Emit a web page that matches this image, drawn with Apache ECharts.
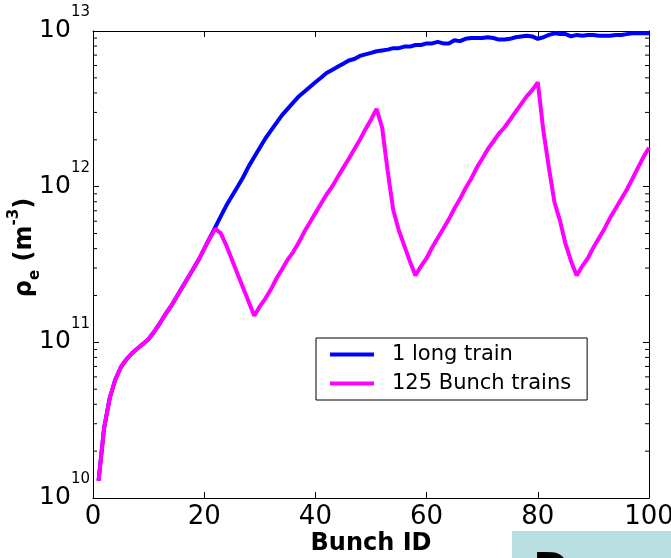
<!DOCTYPE html>
<html>
<head>
<meta charset="utf-8">
<style>
  html, body { margin: 0; padding: 0; background: #fff; }
  #chart-container { width: 671px; height: 558px; }
</style>
</head>
<body>
<div id="chart-container"></div>
<script src="https://cdn.jsdelivr.net/npm/echarts@6/dist/echarts.min.js"></script>
<script type="text/javascript">
// bunch index along the train
var bunchIds = Array.from({ length: 100 }, function (_, i) { return i + 1; });

// electron cloud density, one long train (m^-3)
var longTrain = [
  1.29e10, 2.82e10, 4.37e10, 5.75e10, 6.92e10, 7.76e10, 8.51e10, 9.12e10, 9.77e10, 1.05e11,
  1.17e11, 1.32e11, 1.51e11, 1.70e11, 1.95e11, 2.24e11, 2.57e11, 2.95e11, 3.39e11, 3.98e11,
  4.68e11, 5.50e11, 6.46e11, 7.59e11, 8.71e11, 1.00e12, 1.15e12, 1.35e12, 1.55e12, 1.78e12,
  2.04e12, 2.29e12, 2.57e12, 2.88e12, 3.16e12, 3.47e12, 3.80e12, 4.07e12, 4.37e12, 4.68e12,
  5.01e12, 5.37e12, 5.62e12, 5.89e12, 6.17e12, 6.46e12, 6.61e12, 6.92e12, 7.08e12, 7.24e12,
  7.41e12, 7.50e12, 7.59e12, 7.76e12, 7.76e12, 7.94e12, 7.94e12, 8.13e12, 8.13e12, 8.32e12,
  8.32e12, 8.51e12, 8.32e12, 8.32e12, 8.71e12, 8.61e12, 8.91e12, 9.02e12, 9.02e12, 9.02e12,
  9.12e12, 9.02e12, 8.81e12, 8.81e12, 8.91e12, 9.12e12, 9.23e12, 9.33e12, 9.23e12, 8.91e12,
  9.12e12, 9.44e12, 9.66e12, 9.55e12, 9.55e12, 9.23e12, 9.44e12, 9.33e12, 9.44e12, 9.44e12,
  9.33e12, 9.33e12, 9.33e12, 9.44e12, 9.44e12, 9.55e12, 9.66e12, 9.66e12, 9.66e12, 9.66e12
];

// electron cloud density, 125-bunch trains with gaps (m^-3)
var bunchTrains = [
  1.29e10, 2.82e10, 4.37e10, 5.75e10, 6.92e10, 7.76e10, 8.51e10, 9.12e10, 9.77e10, 1.05e11,
  1.17e11, 1.32e11, 1.51e11, 1.70e11, 1.95e11, 2.24e11, 2.57e11, 2.95e11, 3.39e11, 3.98e11,
  4.68e11, 5.37e11, 5.01e11, 4.17e11, 3.39e11, 2.75e11, 2.24e11, 1.82e11, 1.48e11, 1.70e11,
  1.91e11, 2.19e11, 2.57e11, 2.95e11, 3.39e11, 3.80e11, 4.37e11, 5.13e11, 5.89e11, 6.76e11,
  7.76e11, 8.91e11, 1.00e12, 1.15e12, 1.32e12, 1.51e12, 1.74e12, 2.00e12, 2.34e12, 2.69e12,
  3.16e12, 2.40e12, 1.26e12, 7.08e11, 5.25e11, 4.17e11, 3.31e11, 2.69e11, 3.09e11, 3.47e11,
  4.07e11, 4.68e11, 5.37e11, 6.17e11, 7.24e11, 8.32e11, 9.77e11, 1.12e12, 1.32e12, 1.51e12,
  1.74e12, 1.95e12, 2.19e12, 2.40e12, 2.69e12, 3.02e12, 3.39e12, 3.80e12, 4.17e12, 4.68e12,
  2.29e12, 1.32e12, 7.94e11, 6.03e11, 4.27e11, 3.31e11, 2.69e11, 3.09e11, 3.47e11, 4.07e11,
  4.68e11, 5.37e11, 6.31e11, 7.24e11, 8.32e11, 9.55e11, 1.12e12, 1.32e12, 1.55e12, 1.78e12
];

var seriesNames = ['1 long train', '125 Bunch trains'];
var xTicks = [0, 20, 40, 60, 80, 100];
var yTickExponents = ['10', '11', '12', '13'];
var minorTicks = [
  2e10, 3e10, 4e10, 5e10, 6e10, 7e10, 8e10, 9e10,
  2e11, 3e11, 4e11, 5e11, 6e11, 7e11, 8e11, 9e11,
  2e12, 3e12, 4e12, 5e12, 6e12, 7e12, 8e12, 9e12
];

var FONT = 'DejaVu Sans';

function pairs(vals) {
  return bunchIds.map(function (x, i) { return [x, vals[i]]; });
}

var dom = document.getElementById('chart-container');
var myChart = echarts.init(dom, null, { renderer: 'canvas' });

var yLabel = {
  fontFamily: FONT,
  color: '#000',
  margin: 3,
  padding: [0, 0, 14, 0],
  formatter: function (value, index) {
    return '{b|10}{s|' + yTickExponents[index] + '}';
  },
  rich: {
    b: { fontFamily: FONT, fontSize: 25, color: '#000', lineHeight: 38, verticalAlign: 'bottom' },
    s: { fontFamily: FONT, fontSize: 15, color: '#000', lineHeight: 38, verticalAlign: 'top' }
  }
};

var boxLine = { show: true, onZero: false, lineStyle: { color: '#000', width: 1 } };
var inTick = { inside: true, length: 6, lineStyle: { color: '#000' } };

var option = {
  animation: false,
  grid: { left: 93, right: 22, top: 31, bottom: 60, containLabel: false, outerBoundsMode: 'none' },
  legend: {
    data: seriesNames,
    orient: 'vertical',
    left: 316,
    top: 338,
    padding: [6, 16, 6, 14],
    itemGap: 8,
    itemWidth: 44,
    itemHeight: 4,
    icon: 'rect',
    backgroundColor: '#fff',
    borderColor: '#000',
    borderWidth: 1,
    borderRadius: 0,
    textStyle: { fontFamily: FONT, fontSize: 21, color: '#000', padding: [0, 0, 0, 13] }
  },
  xAxis: [
    {
      type: 'value',
      min: 0,
      max: 100,
      interval: 20,
      name: 'Bunch ID',
      nameLocation: 'middle',
      nameGap: 34,
      nameMoveOverlap: false,
      nameTextStyle: { fontFamily: FONT, fontSize: 24, fontWeight: 'bold', color: '#000' },
      axisLine: boxLine,
      axisTick: inTick,
      axisLabel: {
        fontFamily: FONT, fontSize: 26, color: '#000', margin: 6,
        formatter: function (v) { return xTicks.indexOf(v) >= 0 ? String(v) : ''; }
      },
      splitLine: { show: false }
    },
    {
      type: 'value',
      position: 'top',
      min: 0,
      max: 100,
      interval: 20,
      axisLine: boxLine,
      axisTick: inTick,
      axisLabel: { show: false },
      splitLine: { show: false }
    }
  ],
  yAxis: [
    {
      type: 'log',
      logBase: 10,
      min: 1e10,
      max: 1e13,
      position: 'left',
      name: '{r|ρ}{sub|e}{r| (m}{sup|-3}{r|)}',
      nameLocation: 'middle',
      nameRotate: 90,
      nameGap: 50,
      nameMoveOverlap: false,
      nameTextStyle: {
        padding: [0, 0, 0, 34],
        rich: {
          r: { fontFamily: FONT, fontSize: 24, fontWeight: 'bold', color: '#000', lineHeight: 36, verticalAlign: 'middle' },
          sub: { fontFamily: FONT, fontSize: 15, fontWeight: 'bold', color: '#000', lineHeight: 36, verticalAlign: 'bottom' },
          sup: { fontFamily: FONT, fontSize: 15, fontWeight: 'bold', color: '#000', lineHeight: 36, verticalAlign: 'top' }
        }
      },
      axisLine: boxLine,
      axisTick: inTick,
      axisLabel: yLabel,
      splitLine: { show: false }
    },
    {
      type: 'log',
      logBase: 10,
      min: 1e10,
      max: 1e13,
      position: 'right',
      axisLine: boxLine,
      axisTick: inTick,
      axisLabel: { show: false },
      splitLine: { show: false }
    }
  ],
  series: [
    {
      name: seriesNames[0],
      type: 'line',
      data: pairs(longTrain),
      showSymbol: false,
      color: '#0000ff',
      lineStyle: { color: '#0000ff', width: 4 },
      z: 3
    },
    {
      name: seriesNames[1],
      type: 'line',
      data: pairs(bunchTrains),
      showSymbol: false,
      color: '#ff00ff',
      lineStyle: { color: '#ff00ff', width: 4 },
      z: 4
    },
    {
      // minor log ticks on both vertical edges of the box
      type: 'custom',
      silent: true,
      clip: false,
      data: minorTicks.map(function (v) { return [0, v]; }),
      renderItem: function (params, api) {
        var l = api.coord([0, api.value(1)]);
        var r = api.coord([100, api.value(1)]);
        return {
          type: 'group',
          children: [
            { type: 'line', shape: { x1: l[0], y1: l[1], x2: l[0] + 4, y2: l[1] }, style: { stroke: '#000', lineWidth: 1 } },
            { type: 'line', shape: { x1: r[0] - 4, y1: r[1], x2: r[0], y2: r[1] }, style: { stroke: '#000', lineWidth: 1 } }
          ]
        };
      },
      z: 2
    }
  ],
  graphic: [
    {
      type: 'rect',
      left: 512,
      top: 531,
      shape: { width: 159, height: 27 },
      style: { fill: '#b9dfe1' },
      silent: true
    },
    {
      type: 'text',
      left: 533,
      top: 552,
      style: { text: 'D', fontFamily: FONT, fontSize: 44, fontWeight: 'bold', fill: '#000' },
      silent: true
    }
  ]
};

myChart.setOption(option);
window.addEventListener('resize', myChart.resize);
</script>
</body>
</html>
